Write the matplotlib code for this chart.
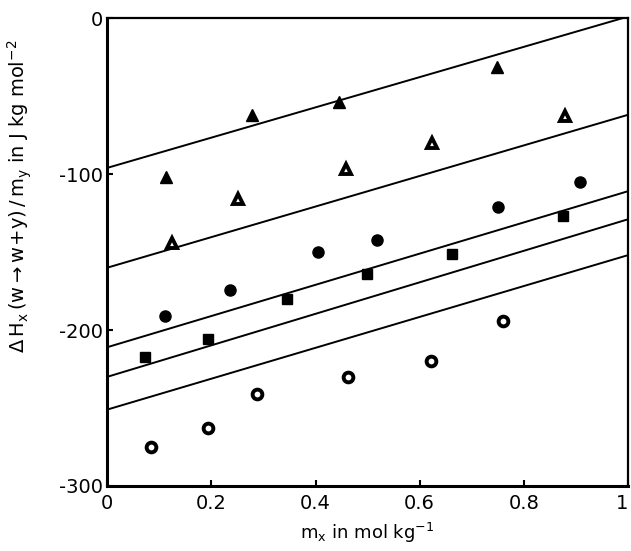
"Enthalpy of transfer vs molality, five series with fitted lines"

import matplotlib
matplotlib.use("Agg")
import matplotlib.pyplot as plt
import numpy as np

plt.rcParams['font.family'] = ['DejaVu Sans']
plt.rcParams['mathtext.fontset'] = 'dejavusans'

# filled triangles
tri_f_x = [0.113, 0.278, 0.445, 0.749]
tri_f_y = [-102, -62, -54, -31]
# open triangles
tri_o_x = [0.125, 0.252, 0.459, 0.624, 0.879]
tri_o_y = [-144, -116, -97, -80, -63]
# filled circles
circ_f_x = [0.111, 0.235, 0.405, 0.518, 0.750, 0.908]
circ_f_y = [-191, -174, -150, -142, -121, -105]
# filled squares
sq_x = [0.073, 0.194, 0.345, 0.499, 0.662, 0.875]
sq_y = [-217, -206, -180, -164, -151, -127]
# open circles
circ_o_x = [0.084, 0.194, 0.288, 0.463, 0.622, 0.760]
circ_o_y = [-275, -263, -241, -230, -220, -194]

# straight lines: value at m=0 and at m=1
line_start = [-96, -160, -211, -230, -251]
line_end = [1, -62, -111, -129, -152]

xticks = [0, 0.2, 0.4, 0.6, 0.8, 1.0]
xtick_labels = ["0", "0.2", "0.4", "0.6", "0.8", "1"]
yticks = [0, -100, -200, -300]
ytick_labels = ["0", "-100", "-200", "-300"]

fig = plt.figure(figsize=(6.31, 5.51), dpi=100)
ax = fig.add_axes([0.170, 0.118, 0.825, 0.849])

for y0, y1 in zip(line_start, line_end):
    ax.plot([0, 1], [y0, y1], color='black', lw=1.4, solid_capstyle='butt')

ax.plot(tri_f_x, tri_f_y, linestyle='none', marker='^', ms=8.5,
        mfc='black', mec='black', clip_on=False)
ax.plot(tri_o_x, tri_o_y, linestyle='none', marker='^', ms=7,
        mfc='white', mec='black', mew=2.8, clip_on=False)
ax.plot(circ_f_x, circ_f_y, linestyle='none', marker='o', ms=8,
        mfc='black', mec='black', clip_on=False)
ax.plot(sq_x, sq_y, linestyle='none', marker='s', ms=7.5,
        mfc='black', mec='black', clip_on=False)
ax.plot(circ_o_x, circ_o_y, linestyle='none', marker='o', ms=7,
        mfc='white', mec='black', mew=2.8, clip_on=False)

ax.set_xlim(0, 1)
ax.set_ylim(-300, 0)
ax.set_xticks(xticks)
ax.set_xticklabels(xtick_labels)
ax.set_yticks(yticks)
ax.set_yticklabels(ytick_labels)
ax.tick_params(direction='in', length=4, width=1.5, labelsize=14)
ax.tick_params(axis='x', pad=6)
ax.tick_params(axis='y', pad=3)
ax.get_xticklabels()[-1].set_horizontalalignment('right')

for side in ['left', 'bottom']:
    ax.spines[side].set_linewidth(2.2)
for side in ['top', 'right']:
    ax.spines[side].set_linewidth(1.6)

ax.set_xlabel(r'$\mathrm{m_x}$ in mol kg$^{-1}$', fontsize=13)
ax.xaxis.set_label_coords(0.5, -0.075)
ax.set_ylabel(r'$\Delta\,\mathrm{H_x\,(w \rightarrow w\!+\!y)\,/\,m_y}$'
              r' in J kg mol$^{-2}$', fontsize=14)
ax.yaxis.set_label_coords(-0.14, 0.62)

fig.savefig('out.png', dpi=100)
